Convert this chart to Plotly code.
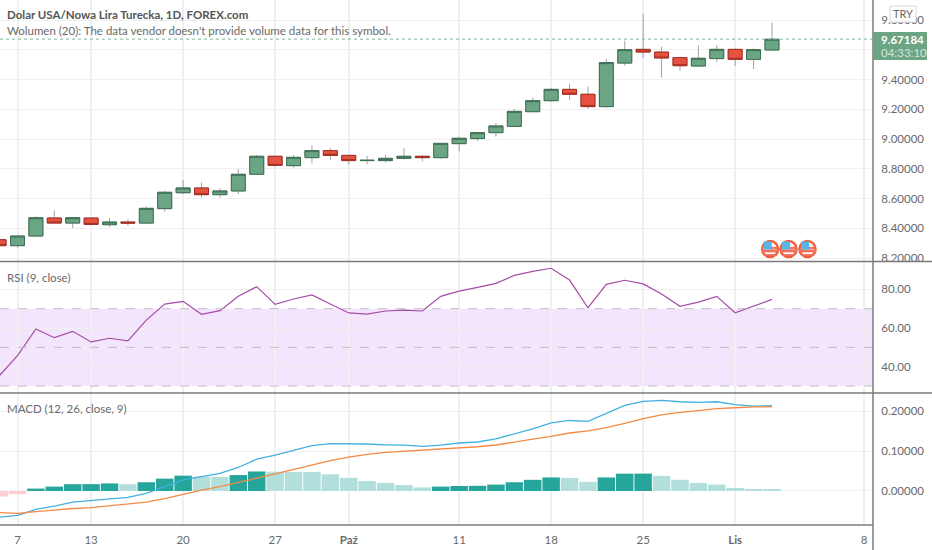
import plotly.graph_objects as go
from plotly.subplots import make_subplots

FONT = "Lato"
GRID = "#f0f0f0"
BORDER = "#7a7a7a"
TEXT = "#6a6a6a"

opens = [8.323, 8.283, 8.348, 8.469, 8.435, 8.469, 8.424, 8.442, 8.435, 8.532, 8.639,
         8.671, 8.626, 8.651, 8.763, 8.884, 8.821, 8.875, 8.922, 8.890, 8.855, 8.855,
         8.870, 8.884, 8.875, 8.969, 9.003, 9.043, 9.085, 9.184, 9.258, 9.334, 9.301,
         9.218, 9.511, 9.603, 9.585, 9.547, 9.491, 9.541, 9.603, 9.536, 9.599]
highs = [8.330, 8.355, 8.480, 8.521, 8.476, 8.473, 8.469, 8.460, 8.547, 8.653, 8.725,
         8.707, 8.669, 8.799, 8.893, 8.890, 8.893, 8.958, 8.940, 8.897, 8.886, 8.893,
         8.937, 8.893, 8.973, 9.016, 9.050, 9.108, 9.202, 9.278, 9.343, 9.372, 9.354,
         9.536, 9.662, 9.845, 9.621, 9.554, 9.632, 9.630, 9.610, 9.610, 9.783]
lows = [8.278, 8.269, 8.343, 8.431, 8.400, 8.422, 8.408, 8.417, 8.426, 8.512, 8.630,
        8.606, 8.606, 8.630, 8.758, 8.812, 8.807, 8.837, 8.861, 8.828, 8.830, 8.843,
        8.861, 8.850, 8.868, 8.917, 8.987, 9.016, 9.081, 9.180, 9.249, 9.263, 9.202,
        9.209, 9.493, 9.545, 9.413, 9.460, 9.487, 9.520, 9.491, 9.471, 9.594]
closes = [8.283, 8.348, 8.471, 8.435, 8.471, 8.426, 8.442, 8.435, 8.534, 8.642, 8.671,
          8.626, 8.651, 8.763, 8.884, 8.823, 8.877, 8.922, 8.890, 8.855, 8.857, 8.870,
          8.884, 8.875, 8.971, 9.005, 9.043, 9.088, 9.186, 9.258, 9.334, 9.301, 9.218,
          9.514, 9.601, 9.585, 9.545, 9.493, 9.543, 9.603, 9.536, 9.601, 9.671]

rsi = [35.2, 45.7, 59.5, 55.0, 58.3, 52.8, 54.7, 53.4, 64.1, 72.4, 73.8,
       67.1, 69.0, 76.4, 81.4, 72.2, 75.0, 77.1, 72.4, 67.8, 67.2, 68.8,
       69.3, 68.8, 76.4, 79.1, 81.0, 83.1, 87.2, 89.3, 90.9, 84.8, 70.5,
       82.6, 84.7, 82.8, 77.6, 71.2, 73.4, 76.4, 67.9, 71.4, 74.8]

macd = [-0.066, -0.061, -0.046, -0.038, -0.028, -0.024, -0.019, -0.016, -0.006, 0.011, 0.028,
        0.036, 0.044, 0.059, 0.080, 0.090, 0.102, 0.114, 0.119, 0.119, 0.118, 0.116,
        0.115, 0.112, 0.115, 0.1205, 0.123, 0.131, 0.144, 0.156, 0.171, 0.177, 0.175,
        0.195, 0.215, 0.225, 0.2276, 0.224, 0.2226, 0.224, 0.217, 0.213, 0.214]
signal = [-0.054, -0.056, -0.052, -0.048, -0.044, -0.042, -0.037, -0.033, -0.028, -0.019, -0.008,
          0.002, 0.011, 0.021, 0.032, 0.043, 0.054, 0.065, 0.076, 0.085, 0.092, 0.097,
          0.0996, 0.102, 0.105, 0.109, 0.111, 0.1155, 0.122, 0.130, 0.137, 0.1456, 0.151,
          0.159, 0.170, 0.1816, 0.191, 0.1975, 0.2017, 0.2067, 0.209, 0.211, 0.211]
hist = [-0.014, -0.008, 0.006, 0.011, 0.017, 0.0172, 0.019, 0.017, 0.022, 0.031, 0.0385,
        0.036, 0.0355, 0.040, 0.049, 0.0485, 0.048, 0.0475, 0.042, 0.033, 0.025, 0.020,
        0.015, 0.009, 0.011, 0.0125, 0.013, 0.016, 0.022, 0.028, 0.034, 0.033, 0.023,
        0.034, 0.0435, 0.0436, 0.038, 0.028, 0.020, 0.016, 0.0075, 0.003, 0.0028]

tick_pos = [1, 5, 10, 15, 19, 25, 30, 35, 40, 47]
tick_text = ["7", "13", "20", "27", "<b>Paź</b>", "11", "18", "25", "<b>Lis</b>", "8"]
price_ticks = [8.2, 8.4, 8.6, 8.8, 9.0, 9.2, 9.4, 9.6, 9.8]
# 9.6 sits behind the last price tag in the reference
price_labels = ["8.20000", "8.40000", "8.60000", "8.80000", "9.00000", "9.20000", "9.40000", "", "9.80000"]
last_price = 9.67184
event_pos = [41.9, 42.9, 43.93]
event_price = [8.26, 8.26, 8.26]

days = list(range(len(closes)))
body_top = [max(o, c) for o, c in zip(opens, closes)]
body_bot = [min(o, c) for o, c in zip(opens, closes)]

hist_colors = []
for k, v in enumerate(hist):
    rising = k == 0 or v > hist[k - 1]
    if v >= 0:
        hist_colors.append("#26a69a" if rising else "#b2dfdb")
    else:
        hist_colors.append("#ffcdd2" if rising else "#ef5350")

fig = make_subplots(rows=3, cols=1, shared_xaxes=True)

# wicks first in grey, then the bodies with their dark border on top
fig.add_trace(go.Candlestick(
    x=days, open=opens, high=highs, low=lows, close=closes,
    increasing=dict(line=dict(color="#a3a3a3", width=1), fillcolor="#6ba583"),
    decreasing=dict(line=dict(color="#a3a3a3", width=1), fillcolor="#d75442"),
    whiskerwidth=0), row=1, col=1)
fig.add_trace(go.Candlestick(
    x=days, open=opens, high=body_top, low=body_bot, close=closes,
    increasing=dict(line=dict(color="#3c6f55", width=1), fillcolor="#6ba583"),
    decreasing=dict(line=dict(color="#a82a20", width=1), fillcolor="#e4533f"),
    whiskerwidth=0), row=1, col=1)

# economic calendar flags
fig.add_trace(go.Scatter(x=event_pos, y=event_price, mode="markers", marker=dict(
    symbol="circle", size=16, color="white", line=dict(color="#f0603f", width=2.5))), row=1, col=1)
fig.add_trace(go.Scatter(x=[p + 0.02 for p in event_pos], y=[v - 0.012 for v in event_price], mode="markers",
                         marker=dict(symbol="line-ew", size=12, line=dict(color="#f0705a", width=3))), row=1, col=1)
fig.add_trace(go.Scatter(x=[p + 0.2 for p in event_pos], y=[v + 0.008 for v in event_price], mode="markers",
                         marker=dict(symbol="line-ew", size=5, line=dict(color="#f0705a", width=2))), row=1, col=1)
fig.add_trace(go.Scatter(x=[p + 0.02 for p in event_pos], y=[v - 0.04 for v in event_price], mode="markers",
                         marker=dict(symbol="line-ew", size=9, line=dict(color="#f0705a", width=2))), row=1, col=1)
fig.add_trace(go.Scatter(x=[p - 0.13 for p in event_pos], y=[v + 0.024 for v in event_price], mode="markers",
                         marker=dict(symbol="square", size=8, color="#55b4e8")), row=1, col=1)

fig.add_trace(go.Scatter(x=days, y=rsi, mode="lines", line=dict(color="#a64ca6", width=1.2)), row=2, col=1)

fig.add_trace(go.Bar(x=days, y=hist, marker=dict(color=hist_colors, line=dict(width=0))), row=3, col=1)
fig.add_trace(go.Scatter(x=days, y=macd, mode="lines", line=dict(color="#42b0e0", width=1.3)), row=3, col=1)
fig.add_trace(go.Scatter(x=days, y=signal, mode="lines", line=dict(color="#f58a42", width=1.3)), row=3, col=1)

fig.update_layout(
    width=932, height=550, margin=dict(l=0, r=59, t=0, b=25),
    paper_bgcolor="white", plot_bgcolor="white", showlegend=False,
    font=dict(family=FONT, size=11.5, color=TEXT),
    bargap=0.05, boxgap=0.24, boxgroupgap=0,
    shapes=[
        # RSI band and its dashed levels
        dict(type="rect", xref="x2 domain", yref="y2", x0=0, x1=1, y0=30, y1=70,
             fillcolor="rgba(155,39,230,0.12)", line_width=0, layer="below"),
        dict(type="line", xref="x2 domain", yref="y2", x0=0, x1=1, y0=70, y1=70,
             line=dict(color="#c4bcc8", width=1, dash="dash")),
        dict(type="line", xref="x2 domain", yref="y2", x0=0, x1=1, y0=50, y1=50,
             line=dict(color="#c4bcc8", width=1, dash="dash")),
        dict(type="line", xref="x2 domain", yref="y2", x0=0, x1=1, y0=30, y1=30,
             line=dict(color="#c4bcc8", width=1, dash="dash")),
        # last price line
        dict(type="line", xref="x domain", yref="y", x0=0, x1=1, y0=last_price, y1=last_price,
             line=dict(color="#7fb49a", width=1, dash="dot")),
        # pane separators and the price axis line
        dict(type="line", xref="paper", yref="paper", x0=0, x1=932 / 873, y0=263.5 / 525, y1=263.5 / 525,
             line=dict(color=BORDER, width=1.5)),
        dict(type="line", xref="paper", yref="paper", x0=0, x1=932 / 873, y0=132 / 525, y1=132 / 525,
             line=dict(color=BORDER, width=1.5)),
        dict(type="line", xref="paper", yref="paper", x0=0, x1=1, y0=0, y1=0,
             line=dict(color=BORDER, width=1.5)),
        dict(type="line", xref="paper", yref="paper", x0=1, x1=1, y0=-25 / 525, y1=1,
             line=dict(color=BORDER, width=1.5)),
        # last price tag and currency box
        dict(type="rect", xref="paper", yref="paper", x0=1, x1=927 / 873, y0=465 / 525, y1=493 / 525,
             fillcolor="#6ba583", line_width=0),
        dict(type="rect", xref="paper", yref="paper", x0=890 / 873, x1=916 / 873, y0=503 / 525, y1=519 / 525,
             fillcolor="white", line=dict(color="#d8d8d8", width=1)),
    ],
    annotations=[
        dict(xref="paper", yref="paper", x=5 / 873, y=510.5 / 525, xanchor="left", yanchor="middle", showarrow=False,
             text="<b>Dolar USA/Nowa Lira Turecka, 1D, FOREX.com</b>", font=dict(size=11.5, color="#555555")),
        dict(xref="paper", yref="paper", x=5 / 873, y=494.5 / 525, xanchor="left", yanchor="middle", showarrow=False,
             text="Wolumen (20): The data vendor doesn't provide volume data for this symbol.", font=dict(size=11.5, color=TEXT)),
        dict(xref="paper", yref="paper", x=5 / 873, y=248 / 525, xanchor="left", yanchor="middle", showarrow=False,
             text="RSI (9, close)", font=dict(size=11.5, color=TEXT)),
        dict(xref="paper", yref="paper", x=5 / 873, y=116 / 525, xanchor="left", yanchor="middle", showarrow=False,
             text="MACD (12, 26, close, 9)", font=dict(size=11.5, color=TEXT)),
        dict(xref="paper", yref="paper", x=879 / 873, y=485 / 525, xanchor="left", yanchor="middle", showarrow=False,
             text="<b>%.5f</b>" % last_price, font=dict(size=11.5, color="white")),
        dict(xref="paper", yref="paper", x=879 / 873, y=472 / 525, xanchor="left", yanchor="middle", showarrow=False,
             text="04:33:10", font=dict(size=11.5, color="#d5e6dc")),
        dict(xref="paper", yref="paper", x=903 / 873, y=511 / 525, xanchor="center", yanchor="middle", showarrow=False,
             text="TRY", font=dict(size=11, color=TEXT)),
    ],
)

fig.update_xaxes(range=[0.049, 47.49], tickmode="array", tickvals=tick_pos, ticktext=tick_text,
                 showgrid=True, gridcolor=GRID, gridwidth=1.5, zeroline=False, rangeslider_visible=False,
                 tickfont=dict(size=11.5, color=TEXT), ticks="outside", ticklen=4, tickcolor="rgba(0,0,0,0)")
fig.update_yaxes(side="right", showgrid=True, gridcolor=GRID, zeroline=False, ticks="outside", ticklen=5,
                 tickcolor="rgba(0,0,0,0)", tickfont=dict(size=11.5, color=TEXT))

fig.update_yaxes(domain=[263.5 / 525, 1], range=[8.1765, 9.935], tickvals=price_ticks, ticktext=price_labels, row=1, col=1)
fig.update_yaxes(domain=[132 / 525, 263.5 / 525], range=[26.4, 94.4], tickvals=[40, 60, 80], tickformat=".2f", row=2, col=1)
fig.update_yaxes(domain=[0, 132 / 525], range=[-0.0854, 0.246], tickvals=[0, 0.1, 0.2], tickformat=".5f", row=3, col=1)

fig.write_html("out.html", config=dict(displayModeBar=False), post_script="document.body.style.margin='0';")
